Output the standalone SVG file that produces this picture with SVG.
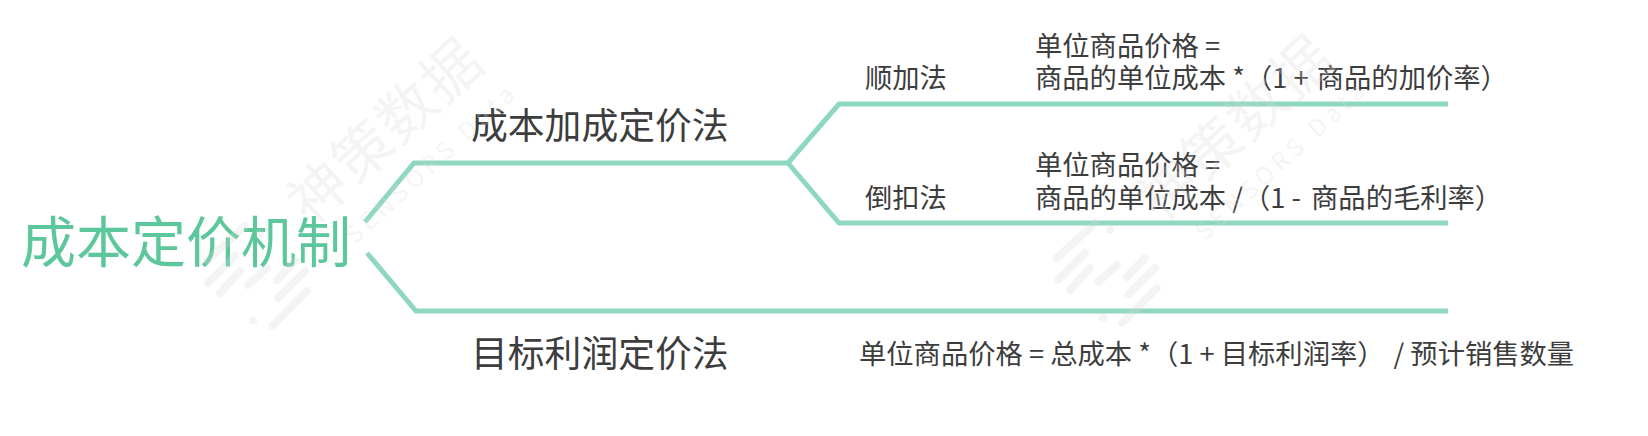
<svg xmlns="http://www.w3.org/2000/svg" width="1648" height="436" viewBox="0 0 1648 436">
<style>
text{font-family:"Noto Sans CJK SC","Noto Sans",sans-serif;fill:#3d3d3d}
.t{font-size:55px;fill:#5cc79a}
.m{font-size:36.8px}
.s{font-size:27.3px}
.c{fill:none;stroke:#8fd8bf;stroke-width:5}
.wm{opacity:.28}
.wm text{fill:#d8d8d8}
.wn{font-size:58px;letter-spacing:2px}
.we{font-size:24px;letter-spacing:5px}
.wb{stroke:#d8d8d8;stroke-width:8;stroke-linecap:round;fill:none}
</style>
<defs>
<g id="wmk" class="wm">
<text class="wn" transform="translate(311 227) rotate(-42.5)">神策数据</text>
<text class="we" transform="translate(355 245) rotate(-42.5)">SENSORS Data</text>
<path class="wb" d="M207 261L245 226M260 233h.01M208 283L235 256M220 293L240 271M248 285L267 268M277 280L295 261M278 298L305 271M272 326L307 291M253 321h.01"/>
</g>
</defs>
<g id="connectors">
<path class="c" d="M365 222L414 163H788L839 104H1448"/>
<path class="c" d="M788 163L839 223H1448"/>
<path class="c" d="M367 253L416 311H1448"/>
</g>
<g id="root"><text class="t" x="21" y="262">成本定价机制</text></g>
<g id="cost-plus"><text class="m" x="471" y="139">成本加成定价法</text></g>
<g id="target-profit"><text class="m" x="471" y="367">目标利润定价法</text></g>
<g id="forward"><text class="s" x="865" y="88">顺加法</text></g>
<g id="backward"><text class="s" x="865" y="208">倒扣法</text></g>
<g id="forward-formula">
<text class="s" x="1035" y="56">单位商品价格 =</text>
<text class="s" x="1035" y="88">商品的单位成本 *（1 + <tspan dx="2">商品的加价率）</tspan></text>
</g>
<g id="backward-formula">
<text class="s" x="1035" y="175">单位商品价格 =</text>
<text class="s" x="1035" y="208">商品的单位成本 /（1 - <tspan dx="4">商品的毛利率）</tspan></text>
</g>
<g id="target-formula"><text class="s" x="859" y="364">单位商品价格 = 总成本 *（1 + 目标利润率）<tspan dx="9">/ 预计销售数量</tspan></text></g>
<g id="watermarks">
<use href="#wmk"/>
<use href="#wmk" x="850" y="-3"/>
</g>
</svg>
